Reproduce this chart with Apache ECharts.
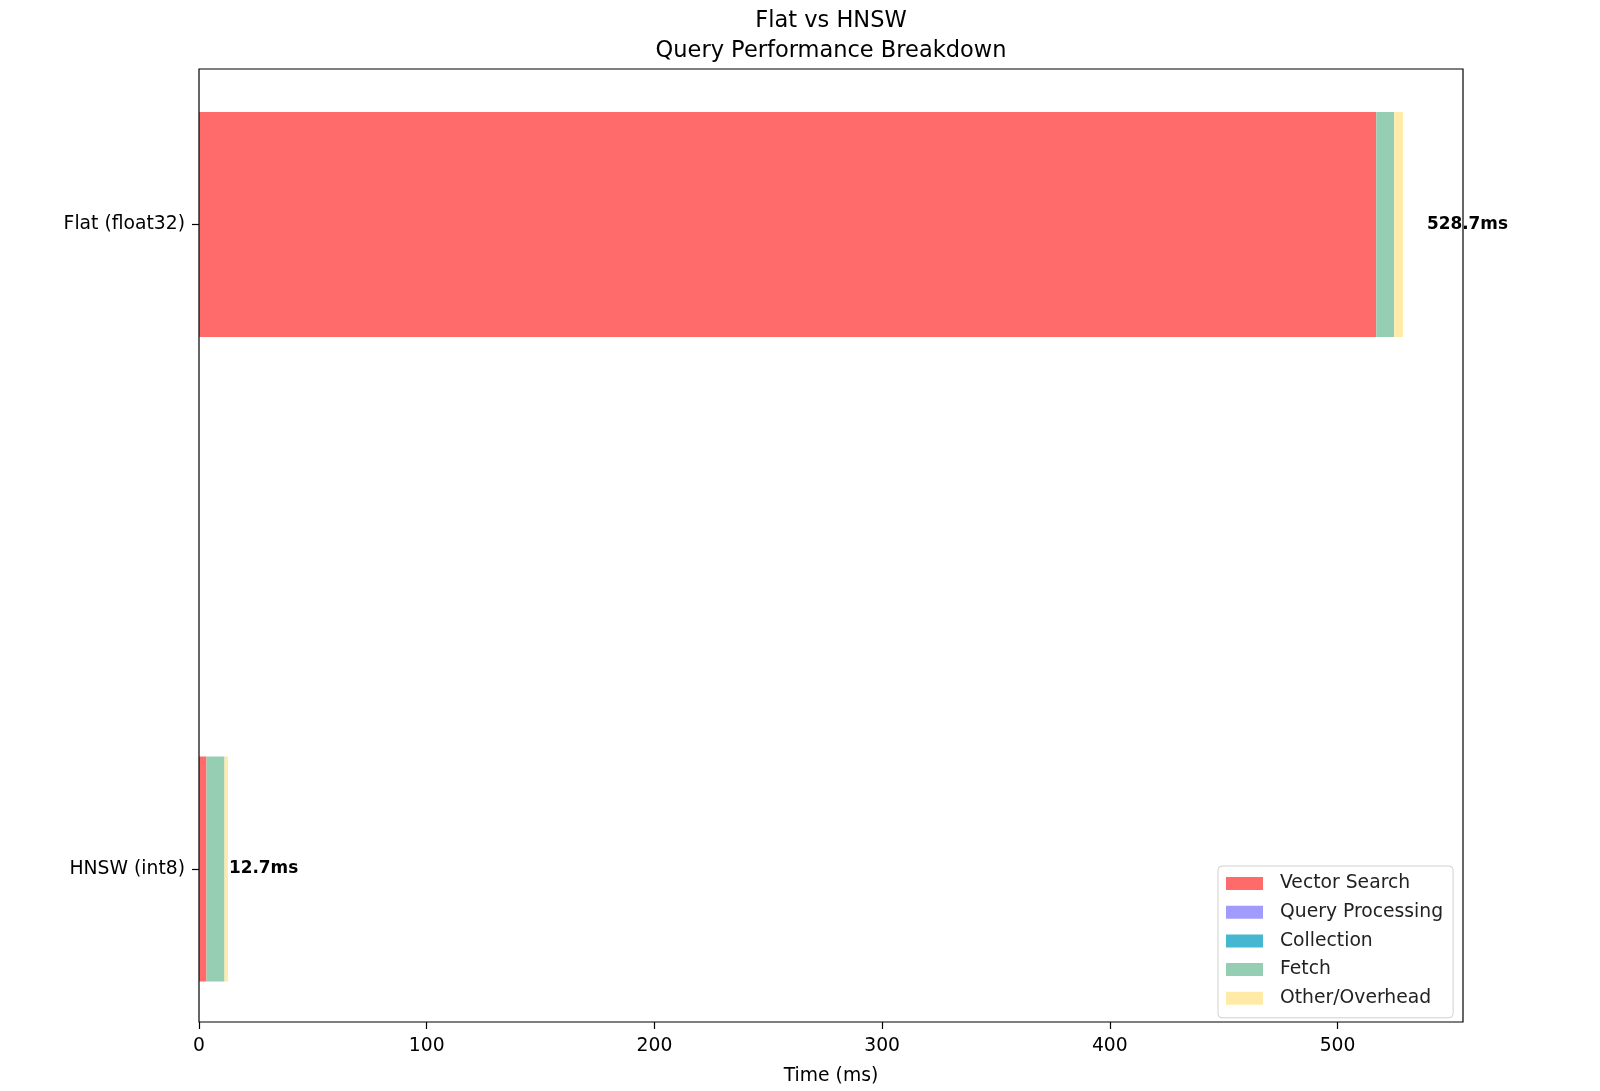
<!DOCTYPE html>
<html><head><meta charset="utf-8">
<script src="https://cdn.jsdelivr.net/npm/echarts@6/dist/echarts.min.js"></script>
<style>html,body{margin:0;padding:0;background:#fff}#c{width:1600px;height:1091px}</style>
</head><body><div id="c"></div>
<script>
const categories = ['HNSW (int8)', 'Flat (float32)'];
const seriesNames = ['Vector Search', 'Query Processing', 'Collection', 'Fetch', 'Other/Overhead'];
const vectorSearch = [3.3, 517.0];
const queryProcessing = [0, 0];
const collection = [0, 0];
const fetchTime = [7.9, 7.9];
const otherOverhead = [1.5, 3.8];
const xTicks = [0, 100, 200, 300, 400, 500];
const xMax = 555.1;

const colors = ['#FF6B6B', '#A29BFE', '#45B7D1', '#96CEB4', '#FFEAA7'];
const values = [vectorSearch, queryProcessing, collection, fetchTime, otherOverhead];
const totals = categories.map((_, i) => values.reduce((s, arr) => s + arr[i], 0));
const labelDist = [1, 24];
const FONT = 'DejaVu Sans';

// axis categories with an empty spacer slot between the two bars
const axisCats = [categories[0], '', categories[1]];
const toAxis = arr => [arr[0], null, arr[1]];

const series = values.map((arr, k) => ({
  name: seriesNames[k],
  type: 'bar',
  stack: 'total',
  xAxisIndex: 0, yAxisIndex: 0,
  barWidth: 225,
  itemStyle: {color: colors[k]},
  data: toAxis(arr.map((v, i) => {
    const d = {value: v};
    if (k === values.length - 1) {
      d.label = {
        show: true, position: 'right', distance: labelDist[i],
        formatter: totals[i].toFixed(1) + 'ms',
        fontFamily: FONT, fontWeight: 'bold', fontSize: 16.9, color: '#000'
      };
    }
    return d;
  }))
}));

const chart = echarts.init(document.getElementById('c'), null, {renderer: 'canvas'});
chart.setOption({
  animation: false,
  backgroundColor: '#fff',
  title: {
    text: 'Flat vs HNSW\nQuery Performance Breakdown',
    left: 826, textAlign: 'center', top: 1,
    textStyle: {fontFamily: FONT, fontWeight: 'normal', fontSize: 22.5, lineHeight: 30, color: '#000'}
  },
  legend: {
    orient: 'vertical', left: 1218, top: 866,
    padding: [8, 10, 10, 8],
    itemWidth: 37, itemHeight: 13, itemGap: 9.7,
    borderColor: '#d0d0d0', borderWidth: 1, borderRadius: 4,
    backgroundColor: 'rgba(255,255,255,0.8)',
    icon: 'rect',
    textStyle: {fontFamily: FONT, fontSize: 18.75, color: '#222', lineHeight: 19, padding: [0, 0, 0, 12]},
    data: seriesNames
  },
  grid: [
    {left: 199, right: 137, top: 63.375, bottom: 60.875, containLabel: false},
    {left: 199, right: 137, top: 69, bottom: 66, show: true, borderColor: '#000', borderWidth: 1.2, backgroundColor: 'transparent', z: 5}
  ],
  xAxis: [
    {gridIndex: 0, type: 'value', min: 0, max: xMax, show: false},
    {gridIndex: 1, type: 'value', min: 0, max: xMax, interval: 100,
      axisLine: {show: false}, splitLine: {show: false},
      axisTick: {show: true, length: 7, lineStyle: {color: '#000', width: 1.2}, customValues: xTicks},
      axisLabel: {customValues: xTicks, margin: 15, fontFamily: FONT, fontSize: 18.75, color: '#000'},
      name: 'Time (ms)', nameLocation: 'middle', nameGap: 45,
      nameTextStyle: {fontFamily: FONT, fontSize: 18.75, color: '#000'}
    }
  ],
  yAxis: [
    {gridIndex: 0, type: 'category', data: axisCats,
      axisLine: {show: false}, splitLine: {show: false},
      axisTick: {show: true, alignWithLabel: true, length: 7, lineStyle: {color: '#000', width: 1.2},
        interval: (idx, val) => val !== ''},
      axisLabel: {margin: 14, fontFamily: FONT, fontSize: 18.75, color: '#000', interval: 0}
    },
    {gridIndex: 1, type: 'value', min: 0, max: 1, show: false}
  ],
  series: series
});
</script></body></html>
